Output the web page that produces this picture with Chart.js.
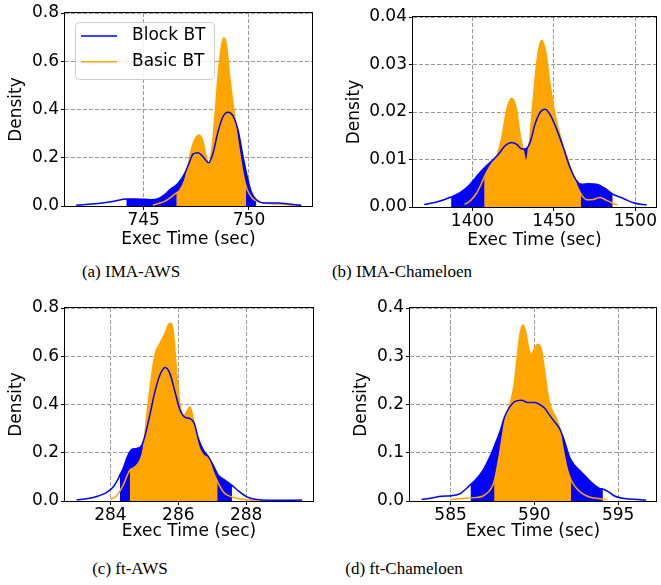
<!DOCTYPE html>
<html>
<head>
<meta charset="utf-8">
<script src="https://cdn.jsdelivr.net/npm/chart.js@4.4.0/dist/chart.umd.min.js"></script>
<style>
  body { margin: 0; background: #fff; }
  #wrap { position: relative; width: 661px; height: 585px; overflow: hidden; }
  canvas { position: absolute; }
  .cap { position: absolute; width: 220px; text-align: center; font-family: 'Liberation Serif', serif;
         font-size: 17px; line-height: 20px; color: #000; }
</style>
</head>
<body>
<div id="wrap">
  <canvas id="cA" width="330" height="250" style="left:0;top:0"></canvas>
  <canvas id="cB" width="331" height="250" style="left:330px;top:0"></canvas>
  <canvas id="cC" width="330" height="250" style="left:0;top:290px"></canvas>
  <canvas id="cD" width="331" height="250" style="left:330px;top:290px"></canvas>
  <div class="cap" style="left:21px;top:262px">(a) IMA-AWS</div>
  <div class="cap" style="left:292px;top:262px">(b) IMA-Chameloen</div>
  <div class="cap" style="left:20px;top:559px">(c) ft-AWS</div>
  <div class="cap" style="left:294px;top:559px">(d) ft-Chameloen</div>
</div>
<script>
// (a) IMA-AWS
const imaAwsBlockX = [741.8, 742.83, 743.6, 744.18, 744.57, 745.36, 745.68, 746.0, 746.31, 746.63, 746.95, 747.18, 747.34, 747.58, 747.82, 748.09, 748.29, 748.53, 748.77, 749.0, 749.24, 749.48, 749.72, 749.92, 750.11, 750.35, 750.74, 751.38, 752.0, 752.48];
const imaAwsBlockY = [0.003, 0.01, 0.02, 0.029, 0.029, 0.026, 0.03, 0.047, 0.072, 0.093, 0.135, 0.183, 0.215, 0.221, 0.204, 0.179, 0.218, 0.308, 0.371, 0.389, 0.374, 0.315, 0.204, 0.121, 0.058, 0.026, 0.0125, 0.0125, 0.007, 0.003];
const imaAwsBasicX = [745.44, 745.68, 746.0, 746.31, 746.55, 746.71, 746.95, 747.1, 747.26, 747.42, 747.63, 747.82, 747.97, 748.09, 748.21, 748.37, 748.53, 748.69, 748.81, 748.94, 749.08, 749.24, 749.4, 749.56, 749.72, 749.87, 750.11, 750.35, 750.59, 750.9, 751.38, 751.85, 752.3];
const imaAwsBasicY = [0.003, 0.01, 0.019, 0.0375, 0.054, 0.065, 0.107, 0.162, 0.232, 0.274, 0.294, 0.267, 0.204, 0.176, 0.218, 0.357, 0.537, 0.662, 0.697, 0.662, 0.537, 0.426, 0.315, 0.218, 0.135, 0.079, 0.0375, 0.021, 0.014, 0.01, 0.008, 0.005, 0.001];
const imaAwsBlockFill = [744.18, 750.35];
const imaAwsBasicFill = [746.55, 749.87];
const imaAwsXTicks = [745, 750];
const imaAwsYTicks = [0, 0.2, 0.4, 0.6, 0.8];

// (b) IMA-Chameloen
const imaChBlockX = [1370.3, 1378.1, 1386.9, 1392.4, 1397.5, 1402.7, 1407.2, 1411.9, 1416, 1420, 1424.1, 1427.2, 1430.3, 1432.3, 1435.4, 1438.4, 1441.5, 1444.6, 1447.6, 1451.7, 1455.8, 1459.9, 1464, 1467.1, 1471.2, 1476.3, 1481.4, 1486.1, 1492.6, 1498.8, 1507];
const imaChBlockY = [0.0005, 0.00105, 0.0021, 0.003, 0.0044, 0.0065, 0.0082, 0.0097, 0.0111, 0.0129, 0.0136, 0.0132, 0.0122, 0.0122, 0.0136, 0.0174, 0.0199, 0.0206, 0.0195, 0.0164, 0.0125, 0.0083, 0.0055, 0.0048, 0.0049, 0.0048, 0.0039, 0.0027, 0.0018, 0.0009, 0.0004];
const imaChBasicX = [1395.1, 1398.6, 1402.7, 1405.7, 1407.2, 1410.8, 1414.9, 1418, 1421.1, 1424.1, 1426.8, 1429.2, 1431.3, 1432.9, 1435, 1437.4, 1439.9, 1442.5, 1445.2, 1447.6, 1450.7, 1454.8, 1458.9, 1463, 1466.7, 1470.1, 1474.2, 1478.3, 1482.4, 1486.1, 1489];
const imaChBasicY = [0.00056, 0.0013, 0.003, 0.0051, 0.0063, 0.0086, 0.0108, 0.0146, 0.0206, 0.0229, 0.0209, 0.0153, 0.0118, 0.0097, 0.0139, 0.023, 0.0315, 0.0351, 0.0322, 0.0259, 0.0195, 0.0139, 0.0097, 0.0055, 0.0027, 0.00155, 0.0016, 0.002, 0.0014, 0.0008, 0.0004];
const imaChBlockFill = [1386.9, 1486.1];
const imaChBasicFill = [1407.2, 1466.7];
const imaChXTicks = [1400, 1450, 1500];
const imaChYTicks = [0, 0.01, 0.02, 0.03, 0.04];

// (c) ft-AWS
const ftAwsBlockX = [283.0, 283.34, 283.64, 283.88, 284.08, 284.23, 284.28, 284.37, 284.52, 284.62, 284.77, 284.92, 285.01, 285.16, 285.31, 285.46, 285.61, 285.75, 285.9, 286.05, 286.2, 286.34, 286.47, 286.59, 286.74, 286.89, 287.03, 287.18, 287.38, 287.58, 287.77, 288.02, 288.27, 288.76, 289.65];
const ftAwsBlockY = [0.004, 0.01, 0.021, 0.035, 0.058, 0.093, 0.108, 0.134, 0.19, 0.213, 0.218, 0.231, 0.266, 0.356, 0.453, 0.523, 0.553, 0.529, 0.453, 0.377, 0.347, 0.342, 0.322, 0.259, 0.211, 0.183, 0.148, 0.107, 0.086, 0.065, 0.042, 0.017, 0.007, 0.003, 0.004];
const ftAwsBasicX = [284.0, 284.18, 284.37, 284.57, 284.72, 284.87, 284.97, 285.06, 285.19, 285.31, 285.46, 285.61, 285.7, 285.78, 285.85, 285.95, 286.05, 286.15, 286.25, 286.34, 286.44, 286.59, 286.74, 286.89, 287.03, 287.16, 287.33, 287.53, 287.77, 288.07, 288.36];
const ftAwsBasicY = [0.007, 0.021, 0.065, 0.128, 0.141, 0.169, 0.218, 0.342, 0.495, 0.606, 0.654, 0.696, 0.73, 0.737, 0.703, 0.536, 0.398, 0.349, 0.37, 0.391, 0.342, 0.231, 0.19, 0.176, 0.121, 0.079, 0.037, 0.019, 0.01, 0.004, 0.001];
const ftAwsBlockFill = [284.28, 287.58];
const ftAwsBasicFill = [284.57, 287.16];
const ftAwsXTicks = [284, 286, 288];
const ftAwsYTicks = [0, 0.2, 0.4, 0.6, 0.8];

// (d) ft-Chameloen
const ftChBlockX = [583.27, 583.87, 584.46, 585.06, 585.56, 585.95, 586.19, 586.55, 586.94, 587.34, 587.64, 587.94, 588.23, 588.53, 588.83, 589.23, 589.62, 590.02, 590.32, 590.62, 590.91, 591.21, 591.51, 591.81, 592.1, 592.4, 592.8, 593.19, 593.59, 593.89, 594.09, 594.38, 594.78, 595.38, 596.17, 596.67];
const ftChBlockY = [0.003, 0.006, 0.0097, 0.011, 0.015, 0.026, 0.034, 0.046, 0.064, 0.091, 0.116, 0.143, 0.175, 0.195, 0.206, 0.209, 0.204, 0.204, 0.2, 0.192, 0.178, 0.164, 0.15, 0.123, 0.091, 0.074, 0.06, 0.046, 0.033, 0.026, 0.025, 0.02, 0.0104, 0.005, 0.003, 0.002];
const ftChBasicX = [585.0, 585.65, 586.45, 586.94, 587.34, 587.6, 587.84, 588.04, 588.27, 588.53, 588.79, 588.99, 589.17, 589.33, 589.48, 589.66, 589.82, 590.02, 590.22, 590.42, 590.62, 590.81, 591.01, 591.31, 591.51, 591.71, 591.96, 592.2, 592.5, 592.9, 593.29, 593.79, 594.33];
const ftChBasicY = [0.003, 0.005, 0.007, 0.0104, 0.022, 0.04, 0.081, 0.123, 0.171, 0.199, 0.24, 0.303, 0.351, 0.365, 0.351, 0.317, 0.303, 0.317, 0.325, 0.313, 0.268, 0.22, 0.192, 0.171, 0.15, 0.109, 0.067, 0.043, 0.027, 0.0146, 0.0083, 0.005, 0.003];
const ftChBlockFill = [586.19, 594.09];
const ftChBasicFill = [587.6, 592.2];
const ftChXTicks = [585, 590, 595];
const ftChYTicks = [0, 0.1, 0.2, 0.3, 0.4];

const BLUE = '#0000ff';
const ORANGE = '#ffa500';
const FONT = "17px 'DejaVu Sans', sans-serif";

Chart.defaults.font.family = "'DejaVu Sans', sans-serif";
Chart.defaults.font.size = 17;
Chart.defaults.color = '#000';

function pts(xs, ys) {
    return xs.map((x, i) => ({ x: x, y: ys[i] }));
}
function between(p, range) {
    return p.filter(q => q.x >= range[0] && q.x <= range[1]);
}

// black box round the plot area (matplotlib spines)
const frame = {
    id: 'frame',
    afterDatasetsDraw(chart) {
        const a = chart.chartArea, ctx = chart.ctx;
        ctx.save();
        ctx.strokeStyle = '#000';
        ctx.lineWidth = 1;
        ctx.strokeRect(a.left - 0.5, a.top - 0.5, a.right - a.left + 1, a.bottom - a.top + 1);
        ctx.restore();
    }
};

// x axis title, placed a fixed distance under the plot
const xTitle = {
    id: 'xTitle',
    afterDraw(chart, args, opts) {
        const a = chart.chartArea, ctx = chart.ctx;
        ctx.save();
        ctx.font = FONT;
        ctx.fillStyle = '#000';
        ctx.textAlign = 'center';
        ctx.textBaseline = 'middle';
        ctx.fillText(opts.text, (a.left + a.right) / 2, a.bottom + opts.offset);
        ctx.restore();
    }
};

// legend drawn inside the plot, upper left
const insideLegend = {
    id: 'insideLegend',
    afterDraw(chart, args, opts) {
        if (!opts.show) return;
        const ctx = chart.ctx, a = chart.chartArea;
        const items = chart.data.datasets.filter(d => d.label);
        const x0 = a.left + 10, y0 = a.top + 9, w = 139, h = 57;
        ctx.save();
        ctx.beginPath();
        ctx.roundRect(x0 + 0.5, y0 + 0.5, w, h, 4);
        ctx.fillStyle = 'rgba(255,255,255,0.8)';
        ctx.fill();
        ctx.strokeStyle = '#cccccc';
        ctx.lineWidth = 1;
        ctx.stroke();
        ctx.font = FONT;
        ctx.textBaseline = 'middle';
        items.forEach((d, i) => {
            const y = y0 + 14 + i * 25.7;
            ctx.strokeStyle = d.borderColor;
            ctx.lineWidth = 1.5;
            ctx.beginPath();
            ctx.moveTo(x0 + 6, y);
            ctx.lineTo(x0 + 42, y);
            ctx.stroke();
            ctx.fillStyle = '#000';
            ctx.fillText(d.label, x0 + 57, y);
        });
        ctx.restore();
    }
};

function makeChart(id, c) {
    const blockPts = pts(c.blockX, c.blockY);
    const basicPts = pts(c.basicX, c.basicY);
    return new Chart(document.getElementById(id), {
        type: 'line',
        data: {
            datasets: [
                { label: 'Block BT', data: blockPts, borderColor: BLUE, borderWidth: 1.5, fill: false, order: 1 },
                { label: 'Basic BT', data: basicPts, borderColor: ORANGE, borderWidth: 1.5, fill: false, order: 2 },
                { data: between(basicPts, c.basicFill), fill: 'origin', backgroundColor: ORANGE,
                  borderColor: 'rgba(0,0,0,0)', borderWidth: 0, order: 3 },
                { data: between(blockPts, c.blockFill), fill: 'origin', backgroundColor: BLUE,
                  borderColor: 'rgba(0,0,0,0)', borderWidth: 0, order: 4 }
            ]
        },
        options: {
            responsive: false,
            animation: false,
            events: [],
            layout: { padding: { left: 0, top: c.top, right: c.right, bottom: 0 } },
            elements: {
                point: { radius: 0 },
                line: { cubicInterpolationMode: 'monotone' }
            },
            plugins: {
                legend: { display: false },
                tooltip: { enabled: false },
                insideLegend: { show: !!c.legend },
                xTitle: { text: 'Exec Time (sec)', offset: c.xTitleOff }
            },
            scales: {
                x: {
                    type: 'linear',
                    min: c.xMin,
                    max: c.xMax,
                    afterBuildTicks: s => { s.ticks = c.xTicks.map(v => ({ value: v })); },
                    afterFit: s => { s.height = c.xAxisH; },
                    grid: { color: '#9a9a9a', lineWidth: 1, tickColor: '#000', tickLength: 4 },
                    border: { display: false, dash: [4, 2] },
                    ticks: { padding: 0, maxRotation: 0, callback: v => String(v) },
                    title: { display: false }
                },
                y: {
                    min: 0,
                    max: c.yTicks[c.yTicks.length - 1],
                    afterBuildTicks: s => { s.ticks = c.yTicks.map(v => ({ value: v })); },
                    afterFit: s => { s.width = c.left; },
                    grid: { color: '#9a9a9a', lineWidth: 1, tickColor: '#000', tickLength: 4 },
                    border: { display: false, dash: [4, 2] },
                    ticks: { padding: 2, callback: v => v.toFixed(c.yDec) },
                    title: { display: true, text: 'Density', padding: { top: c.yTitlePad, bottom: 0 } }
                }
            }
        },
        plugins: [frame, xTitle, insideLegend]
    });
}

makeChart('cA', {
    blockX: imaAwsBlockX, blockY: imaAwsBlockY, basicX: imaAwsBasicX, basicY: imaAwsBasicY,
    blockFill: imaAwsBlockFill, basicFill: imaAwsBasicFill, xTicks: imaAwsXTicks, yTicks: imaAwsYTicks,
    xMin: 741.27, xMax: 752.99, yDec: 1,
    top: 13, right: 18, left: 65, xAxisH: 44, yTitlePad: 6, xTitleOff: 34, legend: true
});
makeChart('cB', {
    blockX: imaChBlockX, blockY: imaChBlockY, basicX: imaChBasicX, basicY: imaChBasicY,
    blockFill: imaChBlockFill, basicFill: imaChBasicFill, xTicks: imaChXTicks, yTicks: imaChYTicks,
    xMin: 1363.5, xMax: 1512.7, yDec: 2,
    top: 17, right: 5, left: 83, xAxisH: 43, yTitlePad: 14, xTitleOff: 33.5
});
makeChart('cC', {
    blockX: ftAwsBlockX, blockY: ftAwsBlockY, basicX: ftAwsBasicX, basicY: ftAwsBasicY,
    blockFill: ftAwsBlockFill, basicFill: ftAwsBasicFill, xTicks: ftAwsXTicks, yTicks: ftAwsYTicks,
    xMin: 282.66, xMax: 289.97, yDec: 1,
    top: 18, right: 17, left: 65, xAxisH: 39, yTitlePad: 6, xTitleOff: 30.5
});
makeChart('cD', {
    blockX: ftChBlockX, blockY: ftChBlockY, basicX: ftChBasicX, basicY: ftChBasicY,
    blockFill: ftChBlockFill, basicFill: ftChBasicFill, xTicks: ftChXTicks, yTicks: ftChYTicks,
    xMin: 582.58, xMax: 597.26, yDec: 1,
    top: 18, right: 5, left: 80, xAxisH: 39, yTitlePad: 21, xTitleOff: 30.5
});
</script>
</body>
</html>
